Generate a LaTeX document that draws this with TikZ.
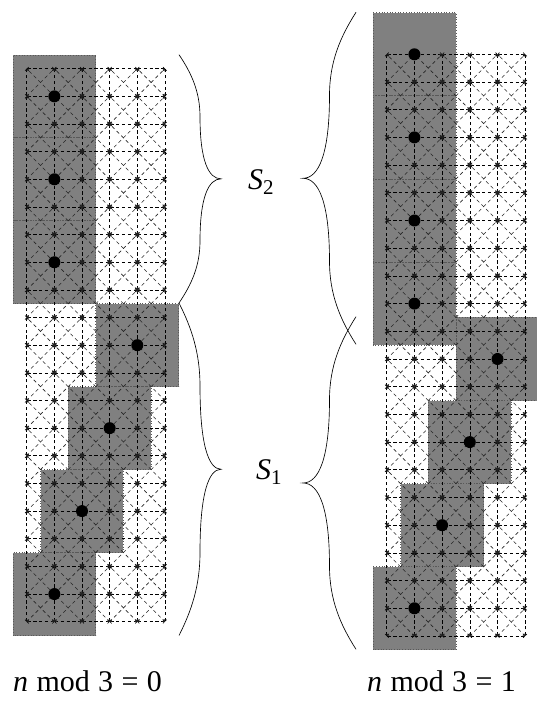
\documentclass[tikz,border=0pt]{standalone}
\usepackage{fontspec}
\setmainfont{Liberation Serif}
\usetikzlibrary{arrows.meta}
\newcommand\mybrace[4]{%
  \pgfmathsetmacro\brX{#1}\pgfmathsetmacro\brT{#2}\pgfmathsetmacro\brB{#3}\pgfmathsetmacro\brA{#4}%
  \pgfmathsetmacro\brH{(\brT-\brB)/2}\pgfmathsetmacro\brM{(\brT+\brB)/2}%
  \draw[bracestyle] (\brX,\brT) .. controls ({\brX+0.3*\brA},{\brT-0.15*\brH}) and ({\brX+0.5*\brA},{\brT-0.3*\brH}) .. ({\brX+0.5*\brA},{\brT-0.5*\brH})
   .. controls ({\brX+0.5*\brA},{\brT-0.85*\brH}) and ({\brX+0.7*\brA},\brM) .. ({\brX+\brA},\brM)
   .. controls ({\brX+0.7*\brA},\brM) and ({\brX+0.5*\brA},{\brB+0.85*\brH}) .. ({\brX+0.5*\brA},{\brB+0.5*\brH})
   .. controls ({\brX+0.5*\brA},{\brB+0.3*\brH}) and ({\brX+0.3*\brA},{\brB+0.15*\brH}) .. (\brX,\brB);
}
\tikzset{
  blockfill/.style={fill=black!50},
  blockborder/.style={draw=black!65, dotted, line width=0.7pt},
  gridline/.style={draw=black, line width=0.6pt, dash pattern=on 3.3pt off 2.5pt,
     {Straight Barb[length=1.6pt,width=3.4pt]}-{Straight Barb[length=1.6pt,width=3.4pt]}},
  diagline/.style={gridline, draw=black!85, dash pattern=on 3.5pt off 3pt, dash phase=1pt},
  bigdot/.style={fill=black},
  bracestyle/.style={draw=black, line width=0.65pt},
  lab/.style={inner sep=0pt, font=\fontsize{30}{36}\selectfont},
}
\newcommand\subtxt[1]{\raisebox{-5pt}{\fontsize{21}{21}\selectfont #1}}
\begin{document}
\begin{tikzpicture}[x=1pt,y=1pt]
\useasboundingbox (0,0) rectangle (537,709);
% ---------- left panel ----------
\begin{scope}[shift={(26.7pt,87.3pt)}, x=27.65pt, y=27.65pt]
  \foreach \cx/\cy in {1/19,1/16,1/13,4/10,3/7,2/4,1/1}
    \fill[blockfill] (\cx-1.5,\cy-1.5) rectangle (\cx+1.5,\cy+1.5);
  \foreach \cx/\cy in {1/19,1/16,1/13,4/10,3/7,2/4,1/1}
    \draw[blockborder] (\cx-1.5,\cy-1.5) rectangle (\cx+1.5,\cy+1.5);
  \foreach \i in {0,...,4} \foreach \j in {0,...,20}
    \draw[gridline] (\i,\j) -- (\i+1,\j);
  \foreach \i in {0,...,5} \foreach \j in {0,...,19}
    \draw[gridline] (\i,\j) -- (\i,\j+1);
  \foreach \i in {0,...,4} \foreach \j in {0,...,19} {
    \draw[diagline] (\i,\j) -- (\i+1,\j+1);
    \draw[diagline] (\i+1,\j) -- (\i,\j+1);
  }
  \foreach \cx/\cy in {1/19,1/16,1/13,4/10,3/7,2/4,1/1}
    \fill[bigdot] (\cx,\cy) circle (6pt);
\end{scope}
% ---------- right panel ----------
\begin{scope}[shift={(386.7pt,73pt)}, x=27.7pt, y=27.7pt]
  \foreach \cx/\cy in {1/21,1/18,1/15,1/12,4/10,3/7,2/4,1/1}
    \fill[blockfill] (\cx-1.5,\cy-1.5) rectangle (\cx+1.5,\cy+1.5);
  \foreach \cx/\cy in {1/21,1/18,1/15,1/12,4/10,3/7,2/4,1/1}
    \draw[blockborder] (\cx-1.5,\cy-1.5) rectangle (\cx+1.5,\cy+1.5);
  \foreach \i in {0,...,4} \foreach \j in {0,...,21}
    \draw[gridline] (\i,\j) -- (\i+1,\j);
  \foreach \i in {0,...,5} \foreach \j in {0,...,20}
    \draw[gridline] (\i,\j) -- (\i,\j+1);
  \foreach \i in {0,...,4} \foreach \j in {0,...,20} {
    \draw[diagline] (\i,\j) -- (\i+1,\j+1);
    \draw[diagline] (\i+1,\j) -- (\i,\j+1);
  }
  \foreach \cx/\cy in {1/21,1/18,1/15,1/12,4/10,3/7,2/4,1/1}
    \fill[bigdot] (\cx,\cy) circle (6pt);
\end{scope}
% ---------- braces ----------
\mybrace{179}{654.3}{406}{42}
\mybrace{179}{406}{73.5}{42}
\mybrace{356}{364.7}{696.7}{-53}
\mybrace{356}{59.7}{392.3}{-53}
% ---------- labels ----------
\node[lab, anchor=base west] (s2) at (248,519) {\textit{S}\subtxt{2}};
\node[lab, anchor=base west] (s1) at (256,229) {\textit{S}\subtxt{1}};
\node[lab, anchor=base west] (m0) at (13,17) {\textit{n}\hspace{0.278em}mod\hspace{0.278em}3\hspace{0.278em}=\hspace{0.278em}0};
\node[lab, anchor=base west] (m1) at (367,17) {\textit{n}\hspace{0.278em}mod\hspace{0.278em}3\hspace{0.278em}=\hspace{0.278em}1};
\end{tikzpicture}
\end{document}
